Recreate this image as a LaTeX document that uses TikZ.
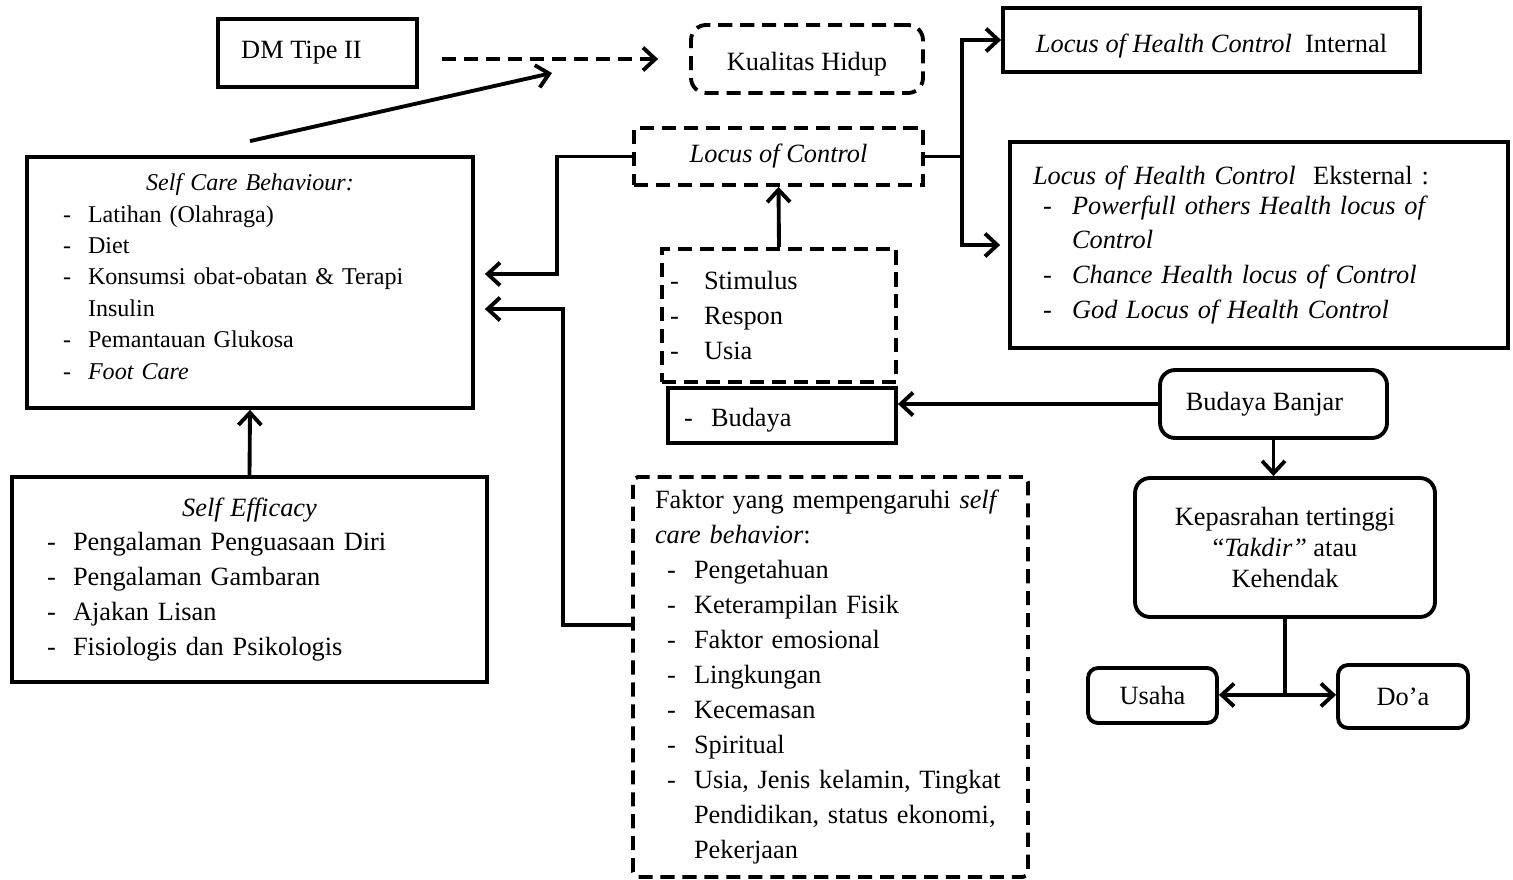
\documentclass[tikz,border=0pt]{standalone}
\usepackage{fontspec}
\setmainfont{Liberation Serif}
\usetikzlibrary{arrows.meta}

\newcommand{\fs}{\fontsize{15}{19.9}\selectfont}
\newcommand{\fsc}{\fontsize{13.7}{17.9}\selectfont}
\newcommand{\itm}[3]{\hspace*{#1}\makebox[#2][l]{-}#3}

\tikzset{
	box/.style={draw, line width=2.2pt, inner sep=0pt, font=\fs},
	dbox/.style={box, dash pattern=on 8pt off 4.5pt},
	rbox/.style={box, rounded corners=0.3cm},
	conn/.style={line width=2.2pt},
}

\begin{document}
\begin{tikzpicture}[x=0.02cm, y=-0.02cm, >={Straight Barb[length=7pt,width=13pt]}]
		\useasboundingbox (0,0) rectangle (1513,879);
		% boxes
		\node[box, minimum width=3.98cm, minimum height=1.36cm] (dm) at (317.5,53) {DM Tipe II\hspace*{0.64cm}};
		\node[dbox, rounded corners=0.3cm, minimum width=4.64cm, minimum height=1.36cm] (kualitas) at (807,59) {\rule{0pt}{0.57cm}Kualitas Hidup};
		\node[dbox, minimum width=5.78cm, minimum height=1.14cm] (locus) at (778.5,156.5) {\textit{Locus of Control}};
		\node[box, minimum width=8.34cm, minimum height=1.28cm] (internal) at (1211.5,40) {\rule{0pt}{0.62cm}\textit{Locus of Health Control}\ \ Internal};
		\node[box, minimum width=9.96cm, minimum height=4.12cm, text width=9.04cm, align=left] (eksternal) at (1259,245) {\textit{Locus of Health Control}\ \ Eksternal :\\[-0.1cm]
			\itm{0.2cm}{0.58cm}{\textit{Powerfull others Health locus of}}\\ \hspace*{0.78cm}\textit{Control}\\
			\itm{0.2cm}{0.58cm}{\textit{Chance Health locus of Control}}\\
			\itm{0.2cm}{0.58cm}{\textit{God Locus of Health Control}}};
		\node[box, font=\fsc, minimum width=8.92cm, minimum height=5.02cm, text width=7.48cm, align=left] (selfcare) at (250,282.5) {\makebox[\linewidth]{\textit{Self Care Behaviour:}}\\
			\itm{0pt}{0.5cm}{Latihan (Olahraga)}\\ \itm{0pt}{0.5cm}{Diet}\\
			\itm{0pt}{0.5cm}{Konsumsi obat-obatan \& Terapi}\\ \hspace*{0.5cm}Insulin\\
			\itm{0pt}{0.5cm}{Pemantauan Glukosa}\\ \itm{0pt}{0.5cm}{\textit{Foot Care}}\rule[-0.24cm]{0pt}{0pt}};
		\node[dbox, minimum width=4.68cm, minimum height=2.66cm, text width=4.36cm, align=left] (stimulus) at (779,315.5) {\itm{0pt}{0.68cm}{Stimulus}\\ \itm{0pt}{0.68cm}{Respon}\\ \itm{0pt}{0.68cm}{Usia}};
		\node[box, minimum width=4.56cm, minimum height=1.1cm, text width=3.92cm, align=left] (budaya) at (782,415.5) {\rule{0pt}{0.57cm}\itm{0pt}{0.54cm}{Budaya}};
		\node[rbox, minimum width=4.54cm, minimum height=1.36cm] (banjar) at (1273.5,404) {Budaya Banjar\hspace*{0.36cm}};
		\node[rbox, font=\fontsize{15}{17.7}\selectfont, minimum width=6cm, minimum height=2.78cm, align=center] (takdir) at (1285,547.5) {Kepasrahan tertinggi\\ “\textit{Takdir”} atau\\ Kehendak};
		\node[rbox, rounded corners=0.2cm, minimum width=2.58cm, minimum height=1.1cm] (usaha) at (1152.5,695.5) {Usaha};
		\node[rbox, rounded corners=0.2cm, minimum width=2.6cm, minimum height=1.26cm] (doa) at (1403,696.5) {Do’a};
		\node[dbox, rounded corners=0.1cm, minimum width=7.9cm, minimum height=8cm, text width=7.02cm, align=left] (faktor) at (830.5,677) {Faktor yang mempengaruhi \textit{self}\\ \textit{care behavior}:\\
			\itm{0.24cm}{0.54cm}{Pengetahuan}\\ \itm{0.24cm}{0.54cm}{Keterampilan Fisik}\\
			\itm{0.24cm}{0.54cm}{Faktor emosional}\\ \itm{0.24cm}{0.54cm}{Lingkungan}\\
			\itm{0.24cm}{0.54cm}{Kecemasan}\\ \itm{0.24cm}{0.54cm}{Spiritual}\\
			\itm{0.24cm}{0.54cm}{Usia, Jenis kelamin, Tingkat}\\ \hspace*{0.78cm}Pendidikan, status ekonomi,\\ \hspace*{0.78cm}Pekerjaan};
		\node[box, minimum width=9.5cm, minimum height=4.1cm, text width=8.1cm, align=left] (efficacy) at (249.5,579.5) {\makebox[\linewidth]{\textit{Self Efficacy}}\\
			\itm{0pt}{0.52cm}{Pengalaman Penguasaan Diri}\\ \itm{0pt}{0.52cm}{Pengalaman Gambaran}\\
			\itm{0pt}{0.52cm}{Ajakan Lisan}\\ \itm{0pt}{0.52cm}{Fisiologis dan Psikologis}};
		% connectors
		\coordinate (meet) at (552,73);
		\coordinate (lc) at (557,274);
		\coordinate (fk) at (563,309);
		\coordinate (br) at (962,156.5);
		\draw[->, conn, dash pattern=on 8pt off 4.5pt, shorten <=0.46cm, shorten >=0.62cm] (dm.east |- kualitas.west) -- (kualitas.west);
		\draw[->, conn] ([yshift=0.28cm]selfcare.north) -- (meet);
		\draw[->, conn] (stimulus.north) -- (locus.south);
		\draw[->, conn, shorten >=0.2cm] (locus.west) -| (lc) -- (lc -| selfcare.east);
		\draw[->, conn, shorten >=0.2cm] ([yshift=1.04cm]faktor.west) -| (fk) -- (fk -| selfcare.east);
		\draw[conn] (locus.east) -- (br);
		\draw[->, conn] (br) |- (internal.west);
		\draw[->, conn, shorten >=0.16cm] (br) |- (eksternal.west);
		\draw[->, conn] (banjar.west) -- (banjar.west -| budaya.east);
		\draw[->, conn] (banjar.south) -- (banjar.south |- takdir.north);
		\draw[conn] (takdir.south) -- ++(0,76) coordinate (td);
		\draw[->, conn] (td) -- (td -| usaha.east);
		\draw[->, conn] (td) -- (td -| doa.west);
		\draw[->, conn] (efficacy.north) -- (selfcare.south);
	\end{tikzpicture}
\end{document}
